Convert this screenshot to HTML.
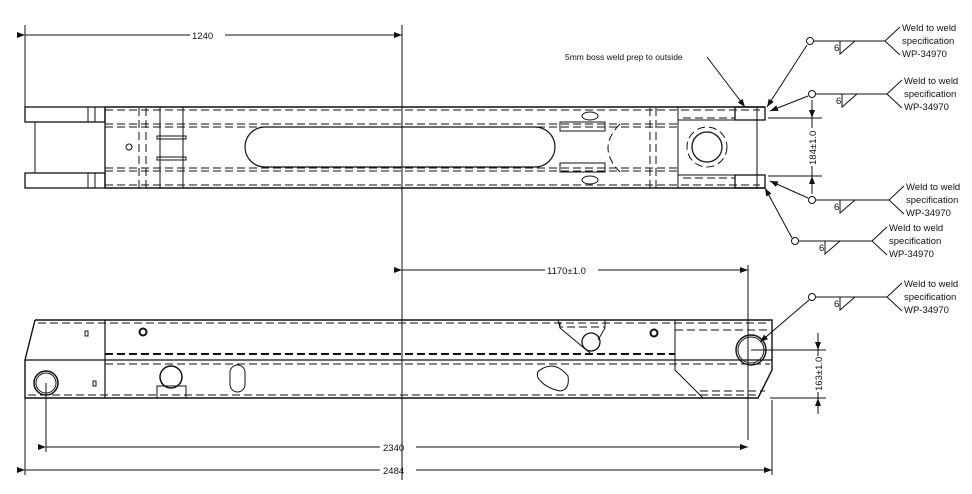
<!DOCTYPE html>
<html><head><meta charset="utf-8"><style>
html,body{margin:0;padding:0;background:#fff}
svg{display:block}
text{font-family:"Liberation Sans",sans-serif;font-size:9.5px;fill:#111}
</style></head><body>
<svg width="972" height="494" viewBox="0 0 972 494" xmlns="http://www.w3.org/2000/svg">
<defs>
<marker id="a" markerWidth="8" markerHeight="6" refX="8" refY="3" orient="auto" markerUnits="userSpaceOnUse"><path d="M0,0L8,3L0,6z" fill="#111"/></marker>
</defs>
<g stroke="#111" fill="none" stroke-width="1">
<!-- ===== TOP VIEW ===== -->
<line x1="25" y1="25" x2="25" y2="108"/>
<line x1="402" y1="25" x2="402" y2="480"/>
<line x1="25" y1="35" x2="190" y2="35" marker-start="url(#a)"/>
<line x1="225" y1="35" x2="402" y2="35" marker-end="url(#a)"/>
<!-- fork -->
<rect x="25" y="107" width="80" height="15" stroke-width="1.3"/>
<rect x="25" y="173" width="80" height="15" stroke-width="1.3"/>
<line x1="35" y1="122" x2="35" y2="173"/>
<g stroke-dasharray="6,3"><line x1="35" y1="122" x2="105" y2="122"/><line x1="35" y1="173" x2="105" y2="173"/></g>
<line x1="88" y1="107" x2="88" y2="122"/><line x1="95" y1="107" x2="95" y2="122"/>
<line x1="88" y1="173" x2="88" y2="188"/><line x1="95" y1="173" x2="95" y2="188"/>
<!-- main body -->
<line x1="105" y1="107" x2="765" y2="107" stroke-width="1.6"/>
<line x1="105" y1="188" x2="765" y2="188" stroke-width="1.6"/>
<line x1="105" y1="107" x2="105" y2="188" stroke-width="1.3"/>
<g stroke-dasharray="8,4">
<line x1="105" y1="110" x2="760" y2="110"/><line x1="105" y1="185" x2="760" y2="185"/>
<line x1="105" y1="124" x2="678" y2="124"/><line x1="105" y1="127" x2="678" y2="127"/>
<line x1="105" y1="168" x2="678" y2="168"/><line x1="105" y1="171" x2="678" y2="171"/>
<line x1="139" y1="108" x2="139" y2="188"/><line x1="146" y1="108" x2="146" y2="188"/>
<line x1="650" y1="108" x2="650" y2="188"/><line x1="656" y1="108" x2="656" y2="188"/>
<line x1="560" y1="122" x2="605" y2="122"/><line x1="560" y1="172" x2="605" y2="172"/>
<path d="M620,124 Q596,148 620,172"/>
<path d="M683,118 H735 M683,178 H735"/>
<circle cx="707" cy="147" r="20"/>
</g>
<line x1="160" y1="107" x2="160" y2="188"/><line x1="183" y1="107" x2="183" y2="188"/>
<rect x="157" y="136" width="29" height="3"/><rect x="157" y="157" width="29" height="3"/>
<circle cx="129" cy="147" r="3"/>
<rect x="560" y="122" width="45" height="9"/><rect x="560" y="163" width="45" height="9"/>
<path d="M265,127 H535 A20,20 0 0 1 535,167 H265 A20,20 0 0 1 265,127 Z" stroke-width="1.2"/>
<ellipse cx="590" cy="116" rx="8" ry="4"/><ellipse cx="590" cy="180" rx="8" ry="4"/>
<!-- right end -->
<path d="M678,107 V120 H735 M678,188 V175 H735"/>
<line x1="678" y1="120" x2="678" y2="175"/>
<circle cx="707" cy="147" r="15" stroke-width="1.3"/>
<line x1="757" y1="107" x2="757" y2="188"/>
<rect x="735" y="107" width="30" height="13" stroke-width="1.3"/>
<rect x="735" y="175" width="30" height="13" stroke-width="1.3"/>
<!-- 184 dim -->
<line x1="768" y1="118" x2="822" y2="118"/><line x1="768" y1="176" x2="822" y2="176"/>
<line x1="812" y1="100" x2="812" y2="118" marker-end="url(#a)"/>
<line x1="812" y1="194" x2="812" y2="176" marker-end="url(#a)"/>
<line x1="812" y1="118" x2="812" y2="128"/><line x1="812" y1="166" x2="812" y2="176"/>
<!-- ===== BOTTOM VIEW ===== -->
<path d="M35,320 H772 V370 L758,398 H25 V360 L35,320" stroke-width="1.4"/>
<line x1="25" y1="360" x2="772" y2="360" stroke-width="1.3"/>
<line x1="105" y1="320" x2="105" y2="398" stroke-width="1.2"/>
<line x1="675" y1="320" x2="675" y2="360"/>
<g stroke-dasharray="8,4">
<line x1="38" y1="323" x2="768" y2="323"/>
<line x1="105" y1="354" x2="675" y2="354" stroke-width="2"/>
<line x1="105" y1="364" x2="770" y2="364"/>
<line x1="28" y1="395" x2="760" y2="395"/>
<line x1="675" y1="330" x2="768" y2="330"/><line x1="700" y1="391" x2="765" y2="391"/>
<path d="M560,322 L560,327 H605"/>
</g>
<path d="M558,320 L560,328 L590,353"/><path d="M605,320 L605,328 L598,340"/>
<path d="M675,360 V370 L703,398"/>
<circle cx="591" cy="342" r="9" stroke-width="1.3"/>
<circle cx="654" cy="333" r="3.5" stroke-width="2"/>
<circle cx="143" cy="332" r="3.5" stroke-width="2"/>
<rect x="85" y="331" width="3" height="5"/><rect x="93" y="381" width="3" height="5"/>
<circle cx="46" cy="383" r="12" stroke-width="1.5"/><circle cx="46" cy="383" r="10"/>
<circle cx="171" cy="377" r="11" stroke-width="1.5"/>
<path d="M157,398 V386 H186 V398"/>
<rect x="230" y="365" width="15" height="27" rx="7.5"/>
<path d="M540,370 Q555,360 568,376 Q570,390 560,391 Q545,388 538,378 Q536,372 540,370Z"/>
<circle cx="751" cy="350" r="15" stroke-width="1.4"/><circle cx="751" cy="350" r="13"/>
<!-- 1170 -->
<line x1="748" y1="265" x2="748" y2="440"/>
<line x1="402" y1="270" x2="545" y2="270" marker-start="url(#a)"/>
<line x1="598" y1="270" x2="748" y2="270" marker-end="url(#a)"/>
<!-- 2340 / 2484 -->
<line x1="46" y1="383" x2="46" y2="452"/>
<line x1="25" y1="398" x2="25" y2="475"/>
<line x1="772" y1="400" x2="772" y2="475"/>
<line x1="46" y1="447" x2="380" y2="447" marker-start="url(#a)"/>
<line x1="416" y1="447" x2="748" y2="447" marker-end="url(#a)"/>
<line x1="25" y1="470" x2="380" y2="470" marker-start="url(#a)"/>
<line x1="416" y1="470" x2="772" y2="470" marker-end="url(#a)"/>
<!-- 163 -->
<line x1="751" y1="350" x2="826" y2="350"/><line x1="770" y1="398" x2="826" y2="398"/>
<line x1="818" y1="333" x2="818" y2="350" marker-end="url(#a)"/>
<line x1="818" y1="414" x2="818" y2="398" marker-end="url(#a)"/>
<line x1="818" y1="350" x2="818" y2="356"/><line x1="818" y1="392" x2="818" y2="398"/>
<!-- leaders -->
<path d="M707,57 L745,107" marker-end="url(#a)"/>
<path d="M807,45 L767,107" marker-end="url(#a)"/>
<path d="M808,96 L770,111" marker-end="url(#a)"/>
<path d="M808,198 L770,181" marker-end="url(#a)"/>
<path d="M792,238 L765,188" marker-end="url(#a)"/>
<path d="M809,300 L760,342" marker-end="url(#a)"/>
<!-- weld callouts -->
<g id="w1"><circle cx="810" cy="41" r="3.5"/><line x1="814" y1="41" x2="885" y2="41"/><path d="M900,27 L885,41 L900,55"/><path d="M840,41 V54 L855,41"/></g>
<circle cx="812" cy="94" r="3.5"/><line x1="816" y1="94" x2="887" y2="94"/><path d="M902,80 L887,94 L902,108"/><path d="M842,94 V107 L857,94"/>
<circle cx="812" cy="200" r="3.5"/><line x1="816" y1="200" x2="889" y2="200"/><path d="M904,186 L889,200 L904,214"/><path d="M840,200 V213 L855,200"/>
<circle cx="795" cy="241" r="3.5"/><line x1="799" y1="241" x2="872" y2="241"/><path d="M887,227 L872,241 L887,255"/><path d="M825,241 V254 L840,241"/>
<circle cx="812" cy="297" r="3.5"/><line x1="816" y1="297" x2="887" y2="297"/><path d="M902,283 L887,297 L902,311"/><path d="M840,297 V310 L855,297"/>
</g>
<!-- texts -->
<text x="192" y="39">1240</text>
<text x="547" y="274">1170±1.0</text>
<text x="383" y="451">2340</text>
<text x="383" y="474">2484</text>
<text x="565" y="60" style="font-size:8.5px">5mm boss weld prep to outside</text>
<text transform="translate(816,165) rotate(-90)">184±1.0</text>
<text transform="translate(822,391) rotate(-90)">163±1.0</text>
<text x="834" y="51">6</text><text x="836" y="104">6</text><text x="834" y="210">6</text><text x="819" y="251">6</text><text x="834" y="307">6</text>
<text x="902" y="31">Weld to weld</text><text x="902" y="44">specification</text><text x="902" y="57">WP-34970</text>
<text x="904" y="84">Weld to weld</text><text x="904" y="97">specification</text><text x="904" y="110">WP-34970</text>
<text x="906" y="190">Weld to weld</text><text x="906" y="203">specification</text><text x="906" y="216">WP-34970</text>
<text x="889" y="231">Weld to weld</text><text x="889" y="244">specification</text><text x="889" y="257">WP-34970</text>
<text x="904" y="287">Weld to weld</text><text x="904" y="300">specification</text><text x="904" y="313">WP-34970</text>
</svg>
</body></html>
